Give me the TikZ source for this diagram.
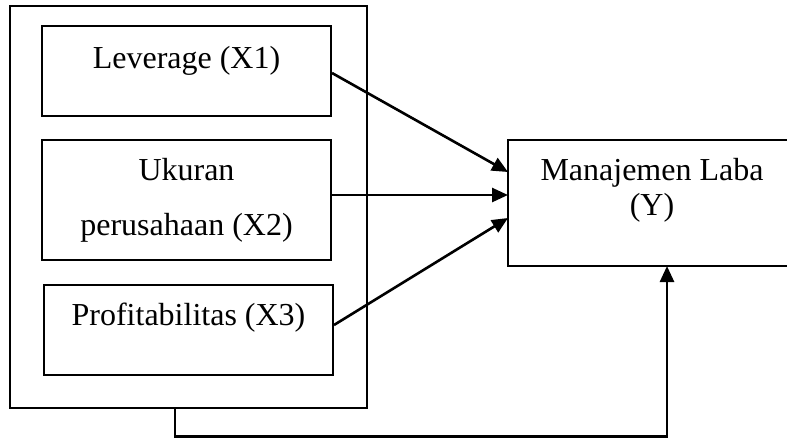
\documentclass[tikz,border=0pt]{standalone}
\usepackage{fontspec}
\setmainfont{Liberation Serif}
\usetikzlibrary{arrows.meta}
\begin{document}
\begin{tikzpicture}[x=1pt,y=-1pt,
  box/.style={draw, line width=2.4pt, rectangle, inner sep=0pt},
  lbl/.style={anchor=base, inner sep=0pt, font=\fontsize{32}{38}\selectfont},
  conn/.style={line width=2.6pt, -{Triangle[length=16pt,width=14pt]}}]
\useasboundingbox (0,0) rectangle (787,437);
% outer frame
\node[box, minimum width=357pt, minimum height=402pt] (frame) at (188.5,207) {};
% independent variable boxes
\node[box, minimum width=289pt, minimum height=90pt] (b1) at (186.5,71) {};
\node[box, minimum width=289pt, minimum height=120pt] (b2) at (186.5,200) {};
\node[box, minimum width=289pt, minimum height=90pt] (b3) at (188.5,330) {};
\node[lbl] (t1) at (186.5,68) {Leverage (X1)};
\node[lbl] (t2a) at (186.5,180) {Ukuran};
\node[lbl] (t2b) at (186.5,235) {perusahaan (X2)};
\node[lbl] (t3) at (188.5,325) {Profitabilitas (X3)};
% dependent box (right edge lies outside the picture)
\node[rectangle, inner sep=0pt, minimum width=279pt, minimum height=126pt] (Y) at (647.5,203) {};
\draw[line width=2.4pt] (Y.north east) -- (Y.north west) -- (Y.south west) -- (Y.south east);
\node[lbl] (ty1) at (652,180) {Manajemen Laba};
\node[lbl] (ty2) at (652,215) {(Y)};
% connectors
\coordinate (s1) at (332,73);
\coordinate (e1) at (508,172);
\coordinate (s2) at (332,195);
\coordinate (e2) at (508,195);
\coordinate (s3) at (334,325);
\coordinate (e3) at (508,218);
\coordinate (ytip) at (667,266);
\draw[conn] (s1) -- (e1);
\draw[conn] (s2) -- (e2);
\draw[conn] (s3) -- (e3);
\draw[conn] ([xshift=-13.5pt]frame.south) -- ++(0,27) -| (ytip);
\end{tikzpicture}
\end{document}
